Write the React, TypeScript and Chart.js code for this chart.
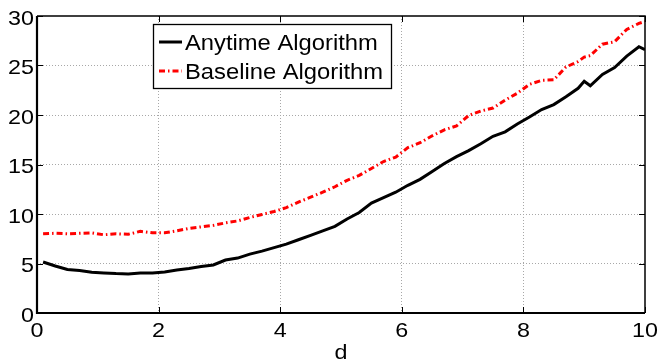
import { useEffect, useRef } from "react";
import { Chart, registerables } from "chart.js";

Chart.register(...registerables);

// ---- data ----
const D = [
  0.1, 0.3, 0.5, 0.7, 0.9, 1.1, 1.3, 1.5, 1.7, 1.9,
  2.1, 2.3, 2.5, 2.7, 2.9, 3.1, 3.3, 3.5, 3.7, 3.9,
  4.1, 4.3, 4.5, 4.7, 4.9, 5.1, 5.3, 5.5, 5.7, 5.9,
  6.1, 6.3, 6.5, 6.7, 6.9, 7.1, 7.3, 7.5, 7.7, 7.9,
  8.1, 8.3, 8.5, 8.7, 8.9, 9.0, 9.1, 9.3, 9.5, 9.7, 9.9, 10.0,
];
const ANYTIME = [
  5.15, 4.75, 4.4, 4.3, 4.12, 4.05, 3.98, 3.95, 4.05, 4.05,
  4.15, 4.35, 4.5, 4.7, 4.85, 5.35, 5.55, 5.95, 6.25, 6.6,
  6.95, 7.4, 7.85, 8.3, 8.75, 9.5, 10.15, 11.1, 11.65, 12.2,
  12.9, 13.5, 14.3, 15.1, 15.8, 16.4, 17.1, 17.85, 18.3, 19.1,
  19.8, 20.55, 21.05, 21.85, 22.7, 23.4, 22.95, 24.1, 24.8, 25.95, 26.9, 26.6,
];
const BASELINE = [
  8.0, 8.05, 8.0, 8.05, 8.1, 7.9, 8.0, 7.95, 8.25, 8.1,
  8.1, 8.3, 8.55, 8.7, 8.85, 9.1, 9.3, 9.65, 9.95, 10.25,
  10.65, 11.2, 11.7, 12.2, 12.75, 13.4, 13.9, 14.6, 15.3, 15.75,
  16.7, 17.2, 17.9, 18.5, 18.9, 19.95, 20.4, 20.7, 21.5, 22.2,
  23.1, 23.5, 23.55, 24.85, 25.4, 25.85, 26.0, 27.15, 27.4, 28.65, 29.25, 29.45,
];
const SERIES_LABELS = ["Anytime Algorithm", "Baseline Algorithm"];
const X_LABEL = "d";
const X_TICKS = [0, 2, 4, 6, 8, 10];
const Y_TICKS = [0, 5, 10, 15, 20, 25, 30];

const FONT = "'Liberation Sans', Arial, Helvetica, sans-serif";
const RED_DASH = [6, 3, 1.5, 3];

function stretchedText(
  ctx: CanvasRenderingContext2D,
  text: string,
  x: number,
  y: number,
  size: number,
  sx: number,
  align: CanvasTextAlign
) {
  ctx.save();
  ctx.translate(x, y);
  ctx.scale(sx, 1);
  ctx.font = `${size}px ${FONT}`;
  ctx.fillStyle = "#000";
  ctx.textAlign = align;
  ctx.textBaseline = "alphabetic";
  ctx.fillText(text, 0, 0);
  ctx.restore();
}

const framePlugin = {
  id: "matlabFrame",
  afterDatasetsDraw(chart: any) {
    const { ctx, chartArea: a, scales } = chart;
    ctx.save();
    // inward tick marks
    ctx.strokeStyle = "#000";
    ctx.lineWidth = 1;
    const tl = 6;
    ctx.beginPath();
    scales.x.ticks.forEach((t: any) => {
      const px = Math.round(scales.x.getPixelForValue(t.value)) + 0.5;
      ctx.moveTo(px, a.bottom);
      ctx.lineTo(px, a.bottom - tl);
      ctx.moveTo(px, a.top);
      ctx.lineTo(px, a.top + tl);
    });
    scales.y.ticks.forEach((t: any) => {
      const py = Math.round(scales.y.getPixelForValue(t.value)) + 0.5;
      ctx.moveTo(a.left, py);
      ctx.lineTo(a.left + tl, py);
      ctx.moveTo(a.right, py);
      ctx.lineTo(a.right - tl, py);
    });
    ctx.stroke();

    // frame
    ctx.lineWidth = 1.5;
    ctx.beginPath();
    ctx.moveTo(a.left, a.top);
    ctx.lineTo(a.right, a.top);
    ctx.lineTo(a.right, a.bottom);
    ctx.stroke();
    ctx.lineWidth = 2.2;
    ctx.beginPath();
    ctx.moveTo(a.left, a.top);
    ctx.lineTo(a.left, a.bottom);
    ctx.lineTo(a.right, a.bottom);
    ctx.stroke();

    // tick labels
    scales.x.ticks.forEach((t: any) => {
      const px = scales.x.getPixelForValue(t.value);
      stretchedText(ctx, String(t.value), px, a.bottom + 23.5, 21, 1.11, "center");
    });
    scales.y.ticks.forEach((t: any) => {
      const py = scales.y.getPixelForValue(t.value);
      stretchedText(ctx, String(t.value), a.left - 3, py + 8.5, 21, 1.11, "right");
    });
    // axis title
    stretchedText(ctx, X_LABEL, (a.left + a.right) / 2, 359, 21, 1.11, "center");

    // legend box
    const lx = 153.5, ly = 24.5, lw = 238, lh = 64;
    ctx.fillStyle = "#fff";
    ctx.fillRect(lx, ly, lw, lh);
    ctx.lineWidth = 1.3;
    ctx.strokeStyle = "#000";
    ctx.strokeRect(lx, ly, lw, lh);

    const rows = [42, 71];
    chart.data.datasets.forEach((ds: any, i: number) => {
      const y = rows[i];
      ctx.beginPath();
      ctx.strokeStyle = ds.borderColor;
      ctx.lineWidth = ds.borderWidth;
      ctx.setLineDash(ds.borderDash || []);
      ctx.moveTo(159, y);
      ctx.lineTo(182, y);
      ctx.stroke();
      ctx.setLineDash([]);
      stretchedText(ctx, ds.label, 185, y + 8, 22, 1.08, "left");
    });
    ctx.restore();
  },
};

export default function App() {
  const ref = useRef<HTMLCanvasElement | null>(null);

  useEffect(() => {
    if (!ref.current) return;
    const gridColor = (max: number) => (c: any) =>
      c.tick && (c.tick.value === 0 || c.tick.value === max) ? "rgba(0,0,0,0)" : "#a8a8a8";
    const chart = new Chart(ref.current, {
      type: "line",
      data: {
        datasets: [
          {
            label: SERIES_LABELS[0],
            data: D.map((x, i) => ({ x, y: ANYTIME[i] })),
            borderColor: "#000000",
            borderWidth: 3,
            pointRadius: 0,
            tension: 0,
            fill: false,
          },
          {
            label: SERIES_LABELS[1],
            data: D.map((x, i) => ({ x, y: BASELINE[i] })),
            borderColor: "#ff0000",
            borderWidth: 3,
            borderDash: RED_DASH,
            pointRadius: 0,
            tension: 0,
            fill: false,
          },
        ],
      },
      options: {
        animation: false,
        responsive: false,
        maintainAspectRatio: false,
        events: [],
        layout: { padding: { left: 0, right: 15, top: 16, bottom: 0 } },
        plugins: {
          legend: { display: false },
          tooltip: { enabled: false },
        },
        scales: {
          x: {
            type: "linear",
            min: 0,
            max: 10,
            afterBuildTicks: (s: any) => {
              s.ticks = X_TICKS.map((v) => ({ value: v }));
            },
            afterFit: (s: any) => {
              s.height = 47;
            },
            ticks: { display: false, autoSkip: false },
            grid: { drawTicks: false, color: gridColor(10), lineWidth: 1 },
            border: { display: false, dash: [1, 2] },
          },
          y: {
            type: "linear",
            min: 0,
            max: 30,
            afterBuildTicks: (s: any) => {
              s.ticks = Y_TICKS.map((v) => ({ value: v }));
            },
            afterFit: (s: any) => {
              s.width = 37;
            },
            ticks: { display: false, autoSkip: false },
            grid: { drawTicks: false, color: gridColor(30), lineWidth: 1 },
            border: { display: false, dash: [1, 2] },
          },
        },
      },
      plugins: [framePlugin],
    } as any);
    return () => chart.destroy();
  }, []);

  return (
    <div style={{ position: "absolute", left: 0, top: 0, width: 660, height: 360, background: "#fff" }}>
      <canvas ref={ref} width={660} height={360} style={{ width: 660, height: 360, display: "block" }} />
    </div>
  );
}
